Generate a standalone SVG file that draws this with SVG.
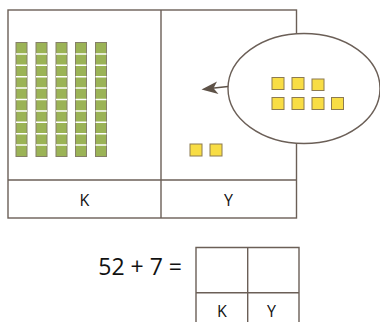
<svg xmlns="http://www.w3.org/2000/svg" width="380" height="322" viewBox="0 0 380 322">
<defs>
<style>
.ln{fill:none;stroke:#6b5f57;stroke-width:1.4}
.rod{fill:#9bb356;stroke:#858068;stroke-width:1}
.tick{stroke:#ffffff;stroke-width:1.5}
.one{fill:#f8dd45;stroke:#8c7a52;stroke-width:1}
.lbl{font-family:"Open Sans","Liberation Sans",Arial,sans-serif;font-size:16px;fill:#111;text-anchor:middle}
.eq{font-family:"Open Sans","Liberation Sans",Arial,sans-serif;font-size:23px;fill:#111;text-anchor:end}
</style>
<g id="rodshape">
<rect class="rod" x="0" y="0" width="11" height="114"/>
<path class="tick" d="M0 11.4h11M0 22.8h11M0 34.2h11M0 45.6h11M0 57h11M0 68.4h11M0 79.8h11M0 91.2h11M0 102.6h11"/>
</g>
</defs>
<g id="place-value-table">
<rect class="ln" x="8" y="10" width="288.5" height="208"/>
<line class="ln" x1="161" y1="10" x2="161" y2="218"/>
<line class="ln" x1="8" y1="180" x2="296.5" y2="180"/>
<text class="lbl" x="84.5" y="205.5">K</text>
<text class="lbl" x="228.5" y="205.5">Y</text>
</g>
<g id="tens">
<use href="#rodshape" x="16" y="42.5"/>
<use href="#rodshape" x="36" y="42.5"/>
<use href="#rodshape" x="56" y="42.5"/>
<use href="#rodshape" x="75.5" y="42.5"/>
<use href="#rodshape" x="95.5" y="42.5"/>
</g>
<g id="ones-table">
<rect class="one" x="190" y="144" width="12" height="12"/>
<rect class="one" x="210" y="144" width="12" height="12"/>
</g>
<g id="bubble">
<ellipse cx="304" cy="88.5" rx="76" ry="55" fill="#ffffff" stroke="#6b5f57" stroke-width="1.4"/>
<rect class="one" x="272" y="77.5" width="12" height="12"/>
<rect class="one" x="292" y="77.5" width="12" height="12"/>
<rect class="one" x="312" y="79" width="12" height="11.5"/>
<rect class="one" x="272" y="97.5" width="12" height="12"/>
<rect class="one" x="292" y="97.5" width="12" height="12"/>
<rect class="one" x="312" y="97.5" width="12" height="12"/>
<rect class="one" x="331.5" y="97.5" width="12" height="12"/>
</g>
<g id="connectors">
<line x1="228" y1="86.5" x2="212" y2="88.3" stroke="#5e5248" stroke-width="1.6"/>
<path d="M201.5 89.5 L217 81.5 L213.5 88.2 L218.5 94 Z" fill="#5e5248"/>
</g>
<g id="equation">
<text class="eq" x="182" y="275">52 + 7 =</text>
<path class="ln" d="M196 330V247.5H299V330M247.7 247.5V330M196 292.7H299"/>
<text class="lbl" x="222" y="316.5">K</text>
<text class="lbl" x="271.5" y="316.5">Y</text>
</g>
</svg>
